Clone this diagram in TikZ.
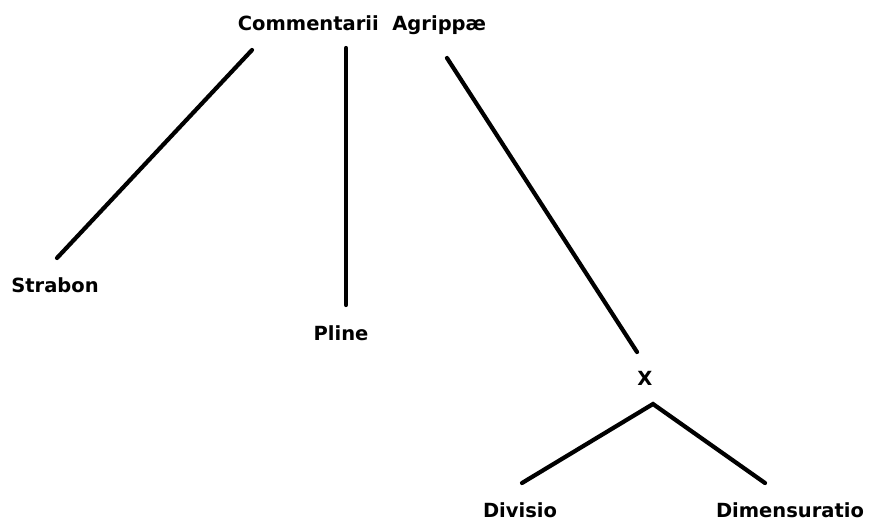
\documentclass[tikz,border=0pt]{standalone}
\usepackage{fontspec}
\setmainfont{DejaVu Sans}
\begin{document}
\begin{tikzpicture}[x=1pt,y=-1pt,
  lbl/.style={font=\fontsize{19.5}{22}\selectfont\bfseries, inner sep=0pt, anchor=center},
  branch/.style={line width=4.2pt, line cap=round}]
\useasboundingbox (0,0) rectangle (870,531);
% labels
\node[lbl] (ca)  at (362,25)  {Commentarii\ \ Agrippæ};
\node[lbl] (str) at (55,285)  {Strabon};
\node[lbl] (pl)  at (341,333) {Pline};
\node[lbl] (x)   at (645,378) {X};
\node[lbl] (div) at (520,510) {Divisio};
\node[lbl] (dim) at (790,510) {Dimensuratio};
% branch end points
\coordinate (caL) at (252,50);
\coordinate (caM) at (346,48);
\coordinate (caR) at (447,58);
\coordinate (strT) at (57,258);
\coordinate (plT) at (346,305);
\coordinate (xT) at (637,352);
\coordinate (xB) at (653,404);
\coordinate (divT) at (522,483);
\coordinate (dimT) at (765,483);
% branches
\draw[branch] (caL) -- (strT);
\draw[branch] (caM) -- (plT);
\draw[branch] (caR) -- (xT);
\draw[branch] (divT) -- (xB) -- (dimT);
\end{tikzpicture}
\end{document}
